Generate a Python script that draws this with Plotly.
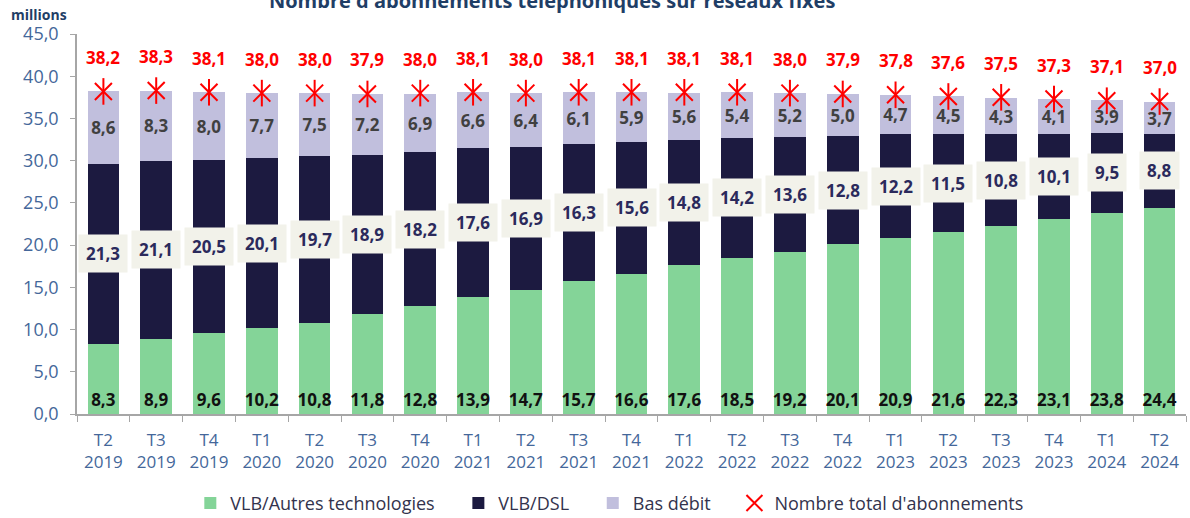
import plotly.graph_objects as go

periods = ["T2<br>2019", "T3<br>2019", "T4<br>2019", "T1<br>2020", "T2<br>2020", "T3<br>2020", "T4<br>2020",
           "T1<br>2021", "T2<br>2021", "T3<br>2021", "T4<br>2021", "T1<br>2022", "T2<br>2022", "T3<br>2022",
           "T4<br>2022", "T1<br>2023", "T2<br>2023", "T3<br>2023", "T4<br>2023", "T1<br>2024", "T2<br>2024"]

vlb_autres = [8.3, 8.9, 9.6, 10.2, 10.8, 11.8, 12.8, 13.9, 14.7, 15.7, 16.6,
              17.6, 18.5, 19.2, 20.1, 20.9, 21.6, 22.3, 23.1, 23.8, 24.4]
vlb_dsl = [21.3, 21.1, 20.5, 20.1, 19.7, 18.9, 18.2, 17.6, 16.9, 16.3, 15.6,
           14.8, 14.2, 13.6, 12.8, 12.2, 11.5, 10.8, 10.1, 9.5, 8.8]
bas_debit = [8.6, 8.3, 8.0, 7.7, 7.5, 7.2, 6.9, 6.6, 6.4, 6.1, 5.9,
             5.6, 5.4, 5.2, 5.0, 4.7, 4.5, 4.3, 4.1, 3.9, 3.7]
total = [38.2, 38.3, 38.1, 38.0, 38.0, 37.9, 38.0, 38.1, 38.0, 38.1, 38.1,
         38.1, 38.1, 38.0, 37.9, 37.8, 37.6, 37.5, 37.3, 37.1, 37.0]


def fr(v):
    return f"{v:.1f}".replace(".", ",")


FONT = "Open Sans"
GREEN = "#84d498"
NAVY = "#1c1a40"
LAVENDER = "#c1bfdd"
RED = "#ff0000"
AXIS_BLUE = "#44679a"
SP = "&nbsp;" * 4

fig = go.Figure()

fig.add_trace(go.Bar(
    x=periods, y=vlb_autres, name="VLB/Autres technologies" + SP,
    marker=dict(color=GREEN, line=dict(width=0)),
    text=[fr(v) for v in vlb_autres], textposition="inside", insidetextanchor="start",
    constraintext="none", textangle=0,
    textfont=dict(family=FONT, size=17, color="#111111", weight="bold"),
))
fig.add_trace(go.Bar(
    x=periods, y=vlb_dsl, name="VLB/DSL" + SP,
    marker=dict(color=NAVY, line=dict(width=0)),
))
fig.add_trace(go.Bar(
    x=periods, y=bas_debit, name="Bas débit" + SP,
    marker=dict(color=LAVENDER, line=dict(width=0)),
    text=[fr(v) for v in bas_debit], textposition="inside", insidetextanchor="middle",
    constraintext="none", textangle=0,
    textfont=dict(family=FONT, size=17, color="#404040", weight="bold"),
))

# total: asterisk drawn as an x plus a vertical stroke
fig.add_trace(go.Scatter(
    x=periods, y=total, mode="markers", name="Nombre total d'abonnements",
    marker=dict(symbol="x-thin-open", size=17, color=RED, line=dict(color=RED, width=2)),
))
fig.add_trace(go.Scatter(
    x=periods, y=total, mode="markers", showlegend=False, hoverinfo="skip",
    marker=dict(symbol="line-ns-open", size=19, color=RED, line=dict(color=RED, width=2)),
))

annotations = []
for i, p in enumerate(periods):
    # DSL labels in cream boxes at the middle of the segment
    annotations.append(dict(
        x=p, y=vlb_autres[i] + vlb_dsl[i] / 2, text=fr(vlb_dsl[i]), showarrow=False,
        font=dict(family=FONT, size=17, color="#2b2a5c", weight="bold"),
        bgcolor="#f2f2ea", borderpad=7, xanchor="center", yanchor="middle",
    ))
    annotations.append(dict(
        x=p, y=total[i], text=fr(total[i]), showarrow=False, yshift=34,
        font=dict(family=FONT, size=17, color=RED, weight="bold"),
        xanchor="center", yanchor="middle",
    ))

annotations.append(dict(
    x=0, y=1, xref="paper", yref="paper", xanchor="left", yanchor="middle",
    text="<b>millions</b>", showarrow=False, font=dict(family=FONT, size=14, color="#1f3e66"),
    xshift=-68, yshift=20,
))

fig.update_layout(
    width=1190, height=518,
    barmode="stack", bargap=0.4,
    separators=", ",
    plot_bgcolor="white", paper_bgcolor="white",
    margin=dict(l=77, r=4, t=34, b=104, autoexpand=False),
    title=dict(text="<b>Nombre d'abonnements téléphoniques sur réseaux fixes</b>",
               x=0.464, xanchor="center", y=0.999, yanchor="middle", yref="container",
               font=dict(family=FONT, size=20, color="#1f3e66")),
    font=dict(family=FONT),
    annotations=annotations,
    legend=dict(orientation="h", x=0.48, xanchor="center", y=-0.235, yanchor="middle",
                font=dict(family=FONT, size=18, color="#33334d"), traceorder="normal",
                itemwidth=30),
    showlegend=True,
)

fig.update_yaxes(range=[0, 45], dtick=5, tickformat=".1f", showgrid=False, zeroline=False,
                 showline=True, linecolor="#a6a6a6", linewidth=1.5, ticks="outside",
                 tickcolor="#a6a6a6", ticklen=5, automargin=False, ticklabelstandoff=8,
                 tickfont=dict(family=FONT, size=18, color=AXIS_BLUE))
fig.update_xaxes(range=[-0.5, len(periods) - 0.5], showgrid=False, showline=True,
                 linecolor="#a6a6a6", linewidth=1.5,
                 ticks="outside", tickson="boundaries", tickcolor="#a6a6a6", ticklen=6,
                 automargin=False, ticklabelstandoff=10,
                 tickfont=dict(family=FONT, size=17, color=AXIS_BLUE))

fig.write_html("out.html", config={"displayModeBar": False},
               post_script="document.body.style.margin='0';")
